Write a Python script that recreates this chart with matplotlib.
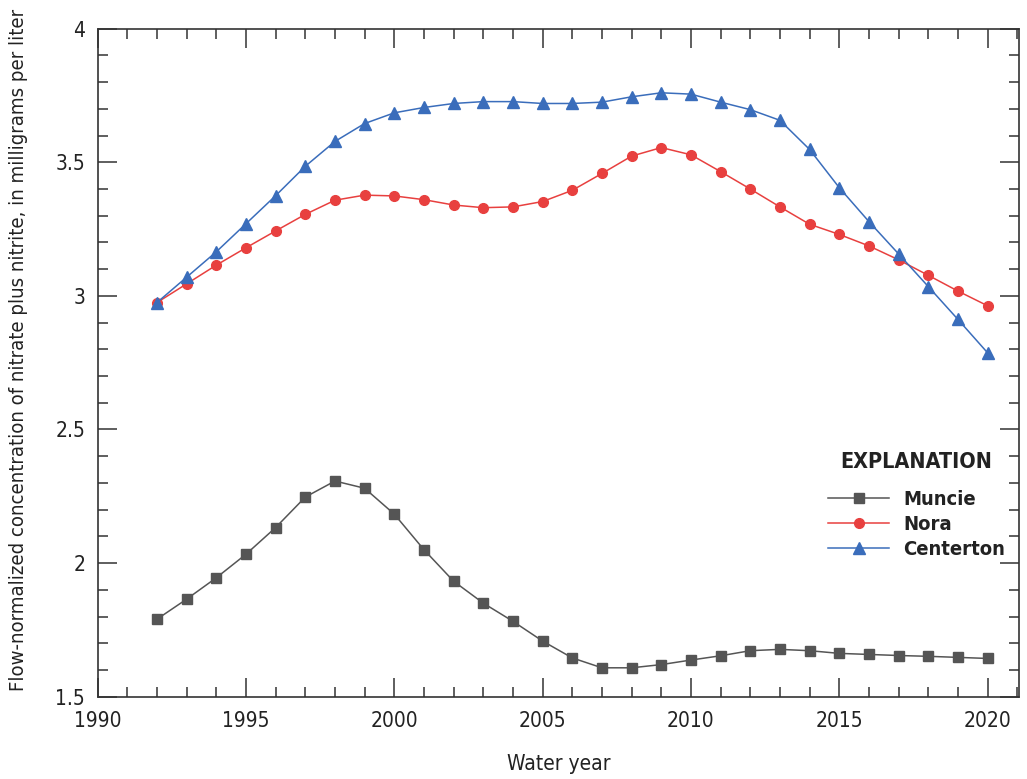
import matplotlib
matplotlib.use("Agg")
import matplotlib.pyplot as plt
from matplotlib.ticker import MultipleLocator

# donnees
annees = list(range(1992, 2021))
muncie = [1.790, 1.865, 1.945, 2.033, 2.133, 2.247, 2.307, 2.280, 2.183, 2.050,
          1.932, 1.850, 1.782, 1.708, 1.645, 1.608, 1.608, 1.620, 1.637, 1.653,
          1.672, 1.677, 1.672, 1.662, 1.658, 1.654, 1.651, 1.647, 1.643]
nora = [2.975, 3.045, 3.115, 3.180, 3.243, 3.305, 3.358, 3.377, 3.374, 3.360,
        3.340, 3.330, 3.333, 3.353, 3.395, 3.458, 3.523, 3.555, 3.528, 3.465,
        3.400, 3.333, 3.268, 3.230, 3.187, 3.135, 3.077, 3.018, 2.963]
centerton = [2.975, 3.070, 3.165, 3.270, 3.375, 3.485, 3.578, 3.645, 3.685, 3.705,
             3.720, 3.727, 3.727, 3.720, 3.720, 3.725, 3.745, 3.760, 3.755, 3.725,
             3.697, 3.657, 3.548, 3.405, 3.278, 3.157, 3.035, 2.912, 2.787]

plt.rcParams['font.family'] = ['DejaVu Sans']
plt.rcParams['font.stretch'] = 'condensed'

fig = plt.figure(figsize=(10.27, 7.79), dpi=100)
ax = fig.add_axes([0.0951, 0.1057, 0.8974, 0.8575])

ax.plot(annees, muncie, color='#555555', lw=1.1, marker='s', ms=6.5, label='Muncie')
ax.plot(annees, nora, color='#e8403f', lw=1.1, marker='o', ms=7, label='Nora')
ax.plot(annees, centerton, color='#3a6dbb', lw=1.1, marker='^', ms=8, label='Centerton')

ax.set_xlim(1990, 2021.07)
ax.set_ylim(1.5, 4)
ax.xaxis.set_major_locator(MultipleLocator(5))
ax.xaxis.set_minor_locator(MultipleLocator(1))
ax.yaxis.set_major_locator(MultipleLocator(0.5))
ax.yaxis.set_minor_locator(MultipleLocator(0.1))
ax.yaxis.set_major_formatter(plt.FuncFormatter(lambda v, p: ('%g' % v)))

for s in ax.spines.values():
    s.set_color('#333333')
    s.set_linewidth(1.2)
ax.tick_params(which='both', direction='in', top=True, right=True,
               color='#333333', width=1.1, labelsize=15, labelcolor='#222222')
ax.tick_params(which='major', length=13.5)
ax.tick_params(which='minor', length=7)
ax.tick_params(axis='x', which='major', pad=10)
ax.tick_params(axis='y', which='major', pad=9)

ax.set_xlabel('Water year', fontsize=15, color='#222222', labelpad=17)
ax.set_ylabel('Flow-normalized concentration of nitrate plus nitrite, in milligrams per liter',
              fontsize=14.6, color='#222222')
ax.yaxis.set_label_coords(-0.076, 0.519)

leg = ax.legend(loc='upper left', bbox_to_anchor=(0.789, 0.443), bbox_transform=fig.transFigure,
                frameon=False, title='EXPLANATION', handlelength=3.0, handletextpad=0.7,
                labelspacing=0.3, prop={'size': 14.5, 'weight': 'bold'},
                title_fontproperties={'size': 15.5, 'weight': 'bold'})
leg._legend_box.sep = 13
for t in leg.get_texts():
    t.set_color('#222222')
leg.get_title().set_color('#222222')

fig.savefig('out.png', dpi=100)
